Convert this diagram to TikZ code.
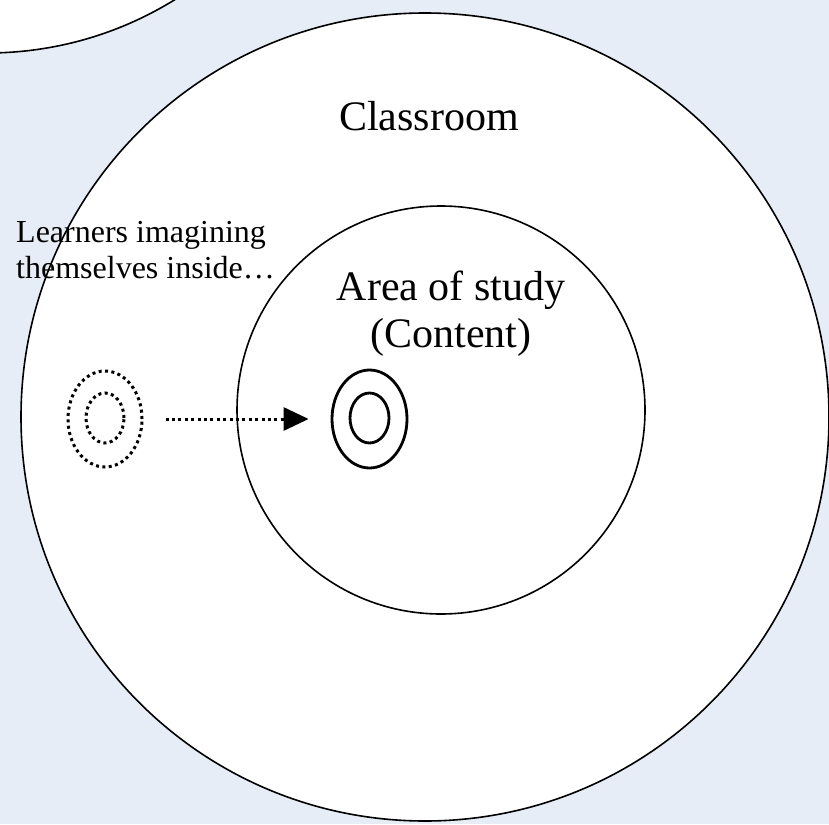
\documentclass[tikz,border=0pt]{standalone}
\usepackage{fontspec}
\setmainfont{Liberation Serif}
\usetikzlibrary{shapes.geometric,arrows.meta}
\definecolor{bgblue}{RGB}{230,237,246}
\tikzset{
  ring/.style={circle, draw=black, fill=white, line width=1.6pt, inner sep=0pt},
  solidell/.style={ellipse, draw=black, line width=2.8pt, inner sep=0pt},
  dotell/.style={ellipse, draw=black, line width=3pt, dash pattern=on 3pt off 3.4pt, inner sep=0pt},
  bigtext/.style={font=\fontsize{42}{48}\selectfont, inner sep=0pt, anchor=base},
  smalltext/.style={font=\fontsize{32}{36}\selectfont, inner sep=0pt, anchor=base west},
}
\begin{document}
\begin{tikzpicture}[x=1pt,y=-1pt]
\useasboundingbox (0,0) rectangle (829,824);
\clip (0,0) rectangle (829,824);
\fill[bgblue] (0,0) rectangle (829,824);
% partial circle top-left
\node[ring, minimum size=714pt] (corner) at (-13,-304) {};
% classroom circle
\node[ring, minimum size=808pt] (classroom) at (425,417) {};
% area of study circle
\node[ring, minimum size=408pt] (area) at (441,410) {};
% texts
\node[bigtext] (classtxt) at (429,130) {Classroom};
\node[bigtext] (area1) at (451,300) {Area of study};
\node[bigtext] (area2) at (451,347) {(Content)};
\node[smalltext] (learn1) at (16,242) {Learners imagining};
\node[smalltext] (learn2) at (16,278) {themselves inside…};
% dotted learner
\node[dotell, minimum width=74pt, minimum height=96pt] (outdot) at (105,419) {};
\node[dotell, minimum width=38pt, minimum height=50pt] (indot) at (105,418) {};
% solid learner
\node[solidell, minimum width=75pt, minimum height=98pt] (outsol) at (369.5,419) {};
\node[solidell, minimum width=39pt, minimum height=50pt] (insol) at (369.5,418) {};
% arrow
\draw[line width=3pt, dash pattern=on 3pt off 3.4pt, -{Triangle[length=25pt,width=23pt]},
      shorten <=22pt, shorten >=22pt] (outdot.east) -- (outsol.west);
\end{tikzpicture}
\end{document}
